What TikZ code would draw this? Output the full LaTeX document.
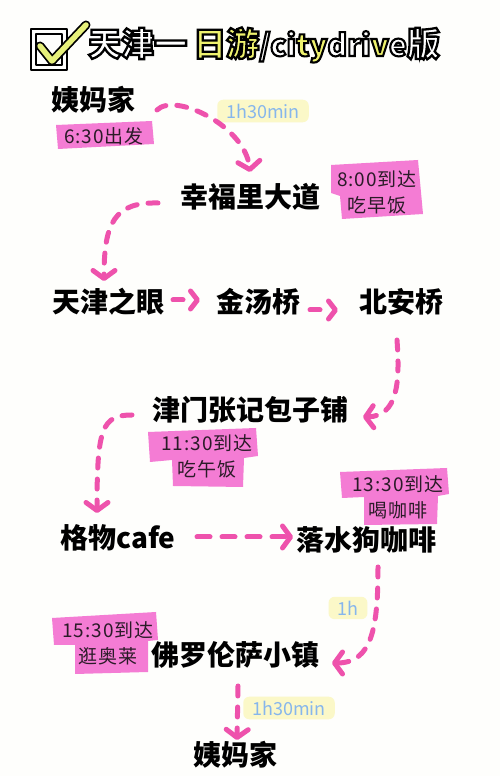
\documentclass[tikz,border=0pt]{standalone}
\usepackage{fontspec}
\setmainfont{Noto Sans CJK SC}
\newfontfamily\titlefont{Noto Sans CJK SC}[FakeBold=7, BoldFeatures={FakeBold=7}]
\usetikzlibrary{arrows.meta,calc}
\definecolor{bgc}{HTML}{FEFEFC}
\definecolor{tagpink}{HTML}{F47CD4}
\definecolor{arrpink}{HTML}{EE52AC}
\definecolor{hlyellow}{HTML}{FBF8C8}
\definecolor{timeblue}{HTML}{86B6EC}
\definecolor{chkyellow}{HTML}{E6F07A}
\definecolor{titleyellow}{HTML}{EEF26E}
\definecolor{tagink}{HTML}{2B1B28}
\newcommand{\ttlw}[1]{{\color{white}\special{pdf:literal direct 0 0 0 RG}#1}}
\newcommand{\ttly}[1]{{\color{titleyellow}\special{pdf:literal direct 0 0 0 RG}#1}}
\tikzset{
  place/.style={inner sep=0pt, font=\bfseries\fontsize{28}{30}\selectfont},
  tagtext/.style={inner sep=0pt, align=center, text=tagink, font=\fontsize{19}{26}\selectfont\addfontfeature{LetterSpace=5}},
  tagbg/.style={fill=tagpink},
  dur/.style={fill=hlyellow, text=timeblue, rounded corners=6pt, font=\fontsize{18}{20}\selectfont, inner xsep=9pt, inner ysep=4pt},
  flow/.style={draw=arrpink, line width=5pt, line cap=round, dash pattern=on 10pt off 11pt, -{Straight Barb[length=8pt,width=22pt,round]}},
  shortflow/.style={draw=arrpink, line width=5pt, line cap=round, dash pattern=on 10pt off 40pt, -{Straight Barb[length=7pt,width=18pt,round]}},
}
\begin{document}
\begin{tikzpicture}[x=1pt,y=1pt]
\fill[bgc] (0,0) rectangle (500,776);
\useasboundingbox (0,0) rectangle (500,776);

% ---- title ----
\draw[line width=2pt, line join=round] (31,706) rectangle (67,747);
\draw[line width=1.3pt, line join=round] (36,711) rectangle (62,742);
\draw[line width=9pt, line cap=round, line join=round] (40,730) -- (52,715) -- (86,751);
\draw[chkyellow, line width=5.5pt, line cap=round, line join=round] (40,730) -- (52,715) -- (86,751);
\node[anchor=west, inner sep=0pt, font=\titlefont\bfseries\fontsize{33}{35}\selectfont] (title) at (88,731)
  {\ttlw{天津一}\hspace{6pt}\ttly{日游}{\fontsize{30}{35}\selectfont\ttlw{/ci}\ttly{ty}\ttlw{dri}\ttly{v}\ttlw{e}}\ttlw{版}};

% ---- tag backgrounds ----
\fill[tagbg] (56,651) -- (152,655) -- (154,632) -- (58,627) -- cycle;
\fill[tagbg] (331,611) -- (418,616) -- (423,562) -- (342,557) -- (340,580) -- (331,583) -- cycle;
\fill[tagbg] (148,344) -- (256,348) -- (258,320) -- (244,318) -- (243,289) -- (173,290) -- (172,316) -- (150,314) -- cycle;
\fill[tagbg] (340,304) -- (447,308) -- (449,282) -- (438,280) -- (437,252) -- (364,251) -- (364,279) -- (342,278) -- cycle;
\fill[tagbg] (52,158) -- (156,164) -- (158,136) -- (148,135) -- (148,104) -- (75,102) -- (75,131) -- (54,131) -- cycle;

% ---- places ----
\node[place] (home1) at (93,676) {姨妈家};
\node[place] (xfl) at (250,579) {幸福里大道};
\node[place] (eye) at (108,474) {天津之眼};
\node[place] (jtq) at (258,474) {金汤桥};
\node[place] (baq) at (401,474) {北安桥};
\node[place] (bzp) at (250,366) {津门张记包子铺};
\node[place] (gw) at (118,238) {格物cafe};
\node[place] (lsg) at (366,236) {落水狗咖啡};
\node[place] (flz) at (235,121) {佛罗伦萨小镇};
\node[place] (home2) at (235,21) {姨妈家};

% ---- tags ----
\node[tagtext] (tag630) at (104,640) {6:30出发};
\node[tagtext] (tag800) at (377,584) {8:00到达\\吃早饭};
\node[tagtext] (tag1130) at (207,320) {11:30到达\\吃午饭};
\node[tagtext] (tag1330) at (398,279) {13:30到达\\喝咖啡};
\node[tagtext] (tag1530) at (108,133) {15:30到达\\逛奥莱};

% ---- durations ----
\node[dur] (d1) at (263,665) {1h30min};
\node[dur] (d2) at (348,168) {1h};
\node[dur] (d3) at (289,68) {1h30min};

% ---- connectors ----
\draw[flow] ($(home1)+(64,-10)$) .. controls ($(home1)+(82,8)$) and ($(xfl)+(-5,71)$) .. ($(xfl)+(0,25)$);
\draw[flow] ($(xfl)+(-92,-6)$) .. controls ($(xfl)+(-135,-5)$) and ($(eye)+(-4,80)$) .. ($(eye)+(-4,21)$);
\draw[shortflow] ($(eye)+(65,2)$) -- ($(jtq)+(-58,2)$);
\draw[shortflow] ($(jtq)+(52,-8)$) -- ($(baq)+(-63,-8)$);
\draw[flow] ($(baq)+(-4,-38)$) .. controls ($(baq)+(-1,-80)$) and ($(bzp)+(148,-6)$) .. ($(bzp)+(113,-7)$);
\draw[flow] ($(bzp)+(-118,-5)$) .. controls ($(bzp)+(-148,-5)$) and ($(gw)+(-21,110)$) .. ($(gw)+(-21,25)$);
\draw[flow, dash pattern=on 13pt off 12pt] ($(gw)+(79,1)$) -- ($(lsg)+(-73,3)$);
\draw[flow] ($(lsg)+(12,-27)$) .. controls ($(lsg)+(12,-88)$) and ($(flz)+(137,-8)$) .. ($(flz)+(97,-8)$);
\draw[flow] ($(flz)+(3,-31)$) -- ($(home2)+(2,15)$);
\end{tikzpicture}
\end{document}
